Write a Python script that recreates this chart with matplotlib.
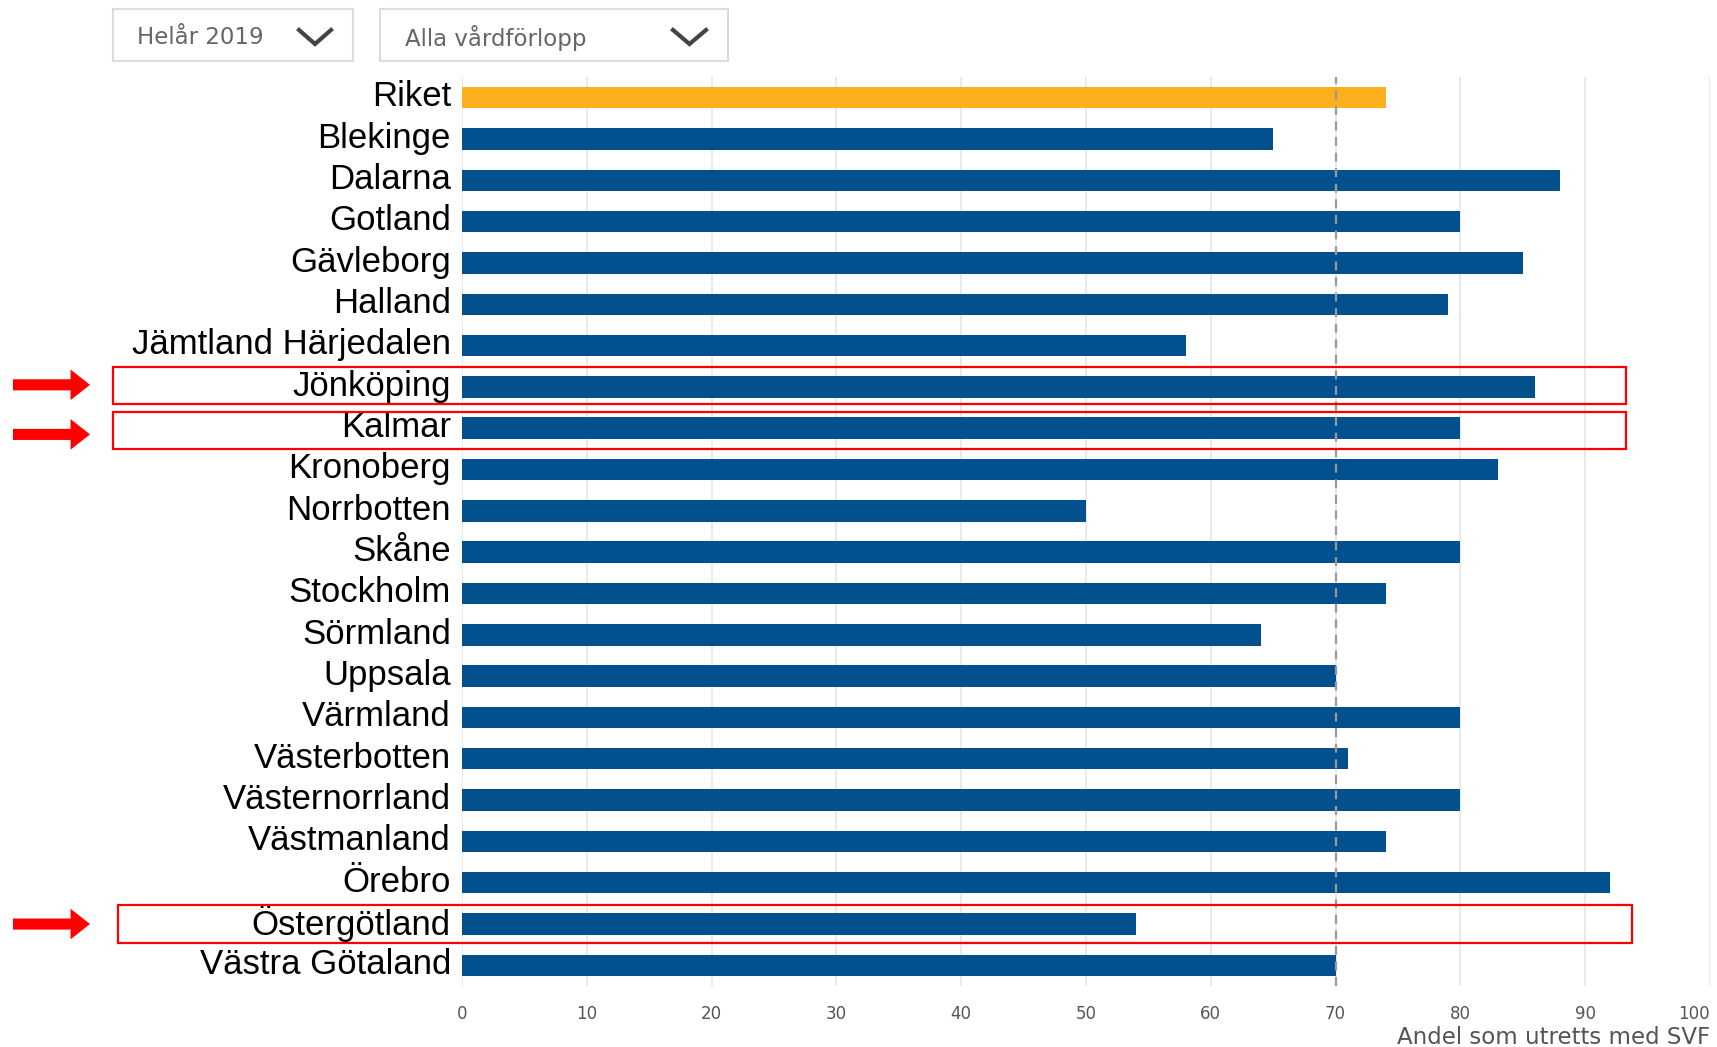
import matplotlib
matplotlib.use('Agg')
import matplotlib.pyplot as plt
import matplotlib.transforms as mtransforms
from matplotlib.patches import Rectangle

# --- data ---
regions = ['Riket', 'Blekinge', 'Dalarna', 'Gotland', 'Gävleborg', 'Halland',
           'Jämtland Härjedalen', 'Jönköping', 'Kalmar', 'Kronoberg', 'Norrbotten',
           'Skåne', 'Stockholm', 'Sörmland', 'Uppsala', 'Värmland', 'Västerbotten',
           'Västernorrland', 'Västmanland', 'Örebro', 'Östergötland', 'Västra Götaland']
values = [74, 65, 88, 80, 85, 79, 58, 86, 80, 83, 50, 80, 74, 64, 70, 80, 71, 80,
          74, 92, 54, 70]
target = 70
x_ticks = [0, 10, 20, 30, 40, 50, 60, 70, 80, 90, 100]
highlighted = ['Jönköping', 'Kalmar', 'Östergötland']
filters = ['Helår 2019', 'Alla vårdförlopp']
x_label = 'Andel som utretts med SVF'

BLUE = '#03508f'
ORANGE = '#fdb01d'

W, H = 1717, 1047
fig = plt.figure(figsize=(W / 100, H / 100), dpi=100)
ax = fig.add_axes([462 / W, 1 - 986 / H, (1710 - 462) / W, (986 - 77) / H])

# --- bars ---
rows = list(range(len(regions)))
colors = [ORANGE if r == 'Riket' else BLUE for r in regions]
ax.barh(rows, values, height=0.52, color=colors, zorder=3)
ax.axvline(target, color='#999999', lw=1.6, ls=(0, (4, 3)), zorder=4)

ax.set_xlim(0, 100)
ax.set_ylim(len(regions) - 0.5, -0.5)
ax.set_xticks(x_ticks)
ax.set_xticklabels([str(t) for t in x_ticks], color='#555555', fontsize=12)
ax.get_xticklabels()[-1].set_ha('right')
ax.set_yticks(rows)
ax.set_yticklabels(regions, fontsize=25, family='Liberation Sans', color='black')
ax.tick_params(axis='both', length=0)
ax.tick_params(axis='x', pad=14)
ax.tick_params(axis='y', pad=8)
# labels sit a little above the bar centres in the original
up = mtransforms.ScaledTranslation(0, 3 / 72, fig.dpi_scale_trans)
for lab in ax.get_yticklabels():
    lab.set_transform(lab.get_transform() + up)
ax.grid(axis='x', color='#e6e6e6', lw=1.2, zorder=0)
ax.grid(axis='y', visible=False)
for s in ax.spines.values():
    s.set_visible(False)

fig.text(1710 / W, 1 - 1038 / H, x_label, ha='right', va='center',
         fontsize=16.5, color='#555555')

# --- highlight boxes and arrows ---
blend = mtransforms.blended_transform_factory(fig.transFigure, ax.transData)
box_x = [(113, 1626), (113, 1626), (118, 1632)]
box_dy = [-0.03, 0.05, 0.0]
arrow_dy = [-0.05, 0.15, 0.0]
for name, (x0, x1), dy, ady in zip(highlighted, box_x, box_dy, arrow_dy):
    r = regions.index(name)
    ax.add_patch(Rectangle((x0 / W, r + dy - 0.45), (x1 - x0) / W, 0.9,
                           transform=blend, fill=False, edgecolor='#ff0000',
                           lw=1.6, clip_on=False, zorder=5))
    ax.annotate('', xy=(90 / W, r + ady), xycoords=blend,
                xytext=(13 / W, r + ady), textcoords=blend,
                arrowprops=dict(arrowstyle='simple,head_length=1.4,head_width=2.2,tail_width=0.8',
                                mutation_scale=10, color='#ff0000', lw=0,
                                shrinkA=0, shrinkB=0),
                annotation_clip=False)

# --- filter dropdowns ---
drop_boxes = [(113, 353, 137, 299, 331), (380, 728, 405, 673, 706)]
for label, (bx0, bx1, tx, cx0, cx1) in zip(filters, drop_boxes):
    fig.patches.append(Rectangle((bx0 / W, 1 - 61 / H), (bx1 - bx0) / W, 52 / H,
                                 transform=fig.transFigure, fill=False,
                                 edgecolor='#dcdcdc', lw=1.5))
    fig.text(tx / W, 1 - 38 / H, label, ha='left', va='center', fontsize=16.5,
             color='#666666')
    cm = (cx0 + cx1) / 2
    fig.add_artist(plt.Line2D([cx0 / W, cm / W, cx1 / W],
                              [1 - 30 / H, 1 - 44 / H, 1 - 30 / H],
                              transform=fig.transFigure, color='#444444', lw=3,
                              solid_joinstyle='miter'))

fig.savefig('out.png', dpi=100)
